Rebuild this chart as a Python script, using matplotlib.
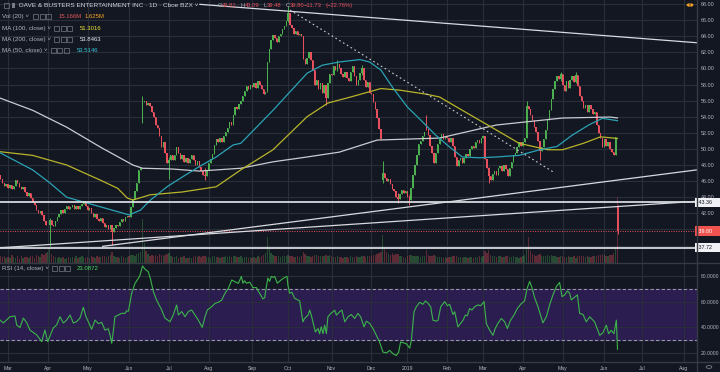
import numpy as np
import pandas as pd
import matplotlib
matplotlib.use("Agg")
import matplotlib.pyplot as plt
from matplotlib.patches import Rectangle, Circle

plt.rcParams['font.family'] = ['Liberation Sans', 'DejaVu Sans']

# daily closes, PLAY, 2018-02-23 .. 2019-06-12
closes = [
    46.3, 45.8, 45.4, 45.7, 45.2, 45.5, 45.0, 45.4, 46.2, 45.8,
    45.3, 45.0, 45.3, 44.6, 44.2, 44.5, 43.9, 43.4, 43.0, 42.4,
    42.0, 42.3, 41.8, 41.0, 40.5, 40.6, 41.2, 40.6, 40.4, 41.0,
    41.5, 41.9, 42.4, 42.1, 42.6, 42.9, 42.5, 42.8, 43.0, 42.6,
    42.9, 42.5, 42.9, 43.2, 43.5, 42.9, 42.4, 42.7, 42.0, 41.6,
    41.9, 41.3, 41.0, 41.4, 40.8, 40.3, 40.6, 40.1, 40.5, 39.7,
    40.2, 40.6, 40.4, 40.9, 41.3, 41.0, 41.5, 41.7, 41.5, 42.8,
    43.8, 44.8, 45.8, 47.4, 47.8, 55.8, 56.0, 55.5, 55.7, 55.3,
    54.6, 54.0, 53.0, 52.6, 51.6, 50.2, 50.8, 49.5, 48.3, 48.6,
    49.2, 48.6, 49.3, 50.3, 49.5, 48.8, 49.3, 48.4, 48.9, 48.2,
    48.8, 49.2, 48.6, 48.0, 48.5, 47.8, 47.3, 46.8, 46.6, 47.4,
    48.2, 48.8, 49.4, 50.5, 51.2, 50.9, 51.3, 50.9, 51.6, 52.1,
    52.6, 53.3, 53.0, 54.2, 55.2, 55.0, 55.6, 56.0, 56.6, 57.2,
    57.8, 57.4, 58.0, 57.7, 58.2, 57.6, 58.4, 58.0, 57.4, 56.8,
    57.1, 60.8, 62.4, 63.5, 64.2, 63.8, 63.3, 64.0, 64.3, 64.9,
    65.3, 65.9, 66.9, 65.4, 65.0, 64.3, 64.6, 64.1, 64.3, 64.0,
    61.2, 60.6, 61.3, 62.0, 61.0, 59.8, 58.0, 58.6, 57.4, 58.2,
    57.0, 57.9, 56.3, 58.2, 59.3, 59.2, 60.3, 59.8, 60.6, 60.0,
    59.3, 58.9, 59.6, 58.8, 58.4, 59.5, 60.3, 59.1, 58.0, 58.6,
    59.4, 60.0, 58.6, 57.7, 58.3, 57.0, 56.8, 55.8, 55.0, 53.8,
    52.5, 51.2, 47.0, 46.4, 46.0, 46.3, 45.7, 45.0, 44.8, 44.0,
    43.8, 44.4, 44.9, 44.5, 44.8, 44.0, 43.6, 45.2, 46.7, 48.0,
    49.2, 50.6, 51.0, 51.6, 52.1, 52.5, 51.7, 50.4, 49.5, 48.3,
    49.5, 50.6, 51.4, 51.9, 51.2, 51.6, 51.3, 50.8, 51.4, 50.4,
    49.0, 47.9, 48.6, 48.9, 48.3, 48.9, 49.4, 49.1, 50.0, 50.4,
    50.1, 50.8, 51.1, 50.7, 51.4, 51.6, 48.8, 47.6, 46.6, 46.2,
    46.9, 47.3, 46.8, 47.6, 47.9, 47.2, 48.0, 47.5, 46.6, 47.6,
    48.4, 49.2, 49.5, 50.3, 50.9, 50.4, 50.8, 51.3, 55.3, 55.0,
    54.2, 53.6, 52.7, 52.1, 51.0, 49.8, 50.3, 51.2, 52.4, 53.6,
    54.8, 56.2, 57.4, 58.5, 59.0, 58.7, 59.3, 58.0, 57.2, 58.4,
    57.6, 58.6, 59.0, 58.3, 59.2, 57.8, 56.6, 56.0, 55.1, 55.4,
    54.6, 55.5, 55.0, 54.3, 54.6, 53.0, 52.0, 51.3, 50.2, 51.2,
    50.4, 50.9, 50.0, 49.6, 49.3, 51.53, 39.80,
]

# volume in millions, same bars
volumes = [
    1.6, 1.3, 1.5, 1.2, 1.4, 1.1, 1.8, 1.3, 1.2, 1.5,
    1.0, 1.6, 1.2, 1.4, 1.3, 1.1, 1.7, 1.5, 1.2, 1.9,
    1.6, 1.4, 2.1, 1.8, 2.2, 2.4, 3.4, 2.0, 1.5, 1.3,
    1.2, 1.4, 1.1, 1.3, 1.0, 1.2, 1.4, 1.1, 1.3, 1.2,
    1.5, 1.1, 1.3, 1.6, 1.4, 1.2, 1.3, 1.1, 1.5, 1.4,
    1.2, 1.6, 1.3, 1.4, 1.5, 1.7, 1.4, 1.6, 1.8, 2.5,
    1.7, 1.4, 1.3, 1.2, 1.5, 1.3, 1.2, 1.4, 1.6, 1.8,
    1.9, 1.7, 2.0, 2.3, 2.6, 10.0, 4.5, 2.8, 2.0, 1.7,
    1.8, 1.5, 1.9, 1.6, 2.1, 1.9, 1.5, 1.8, 2.0, 2.2,
    1.6, 1.4, 1.3, 1.5, 1.2, 1.4, 1.3, 1.5, 1.2, 1.1,
    1.3, 1.2, 1.4, 1.5, 1.3, 1.6, 1.4, 1.7, 1.5, 1.3,
    1.4, 1.2, 1.5, 1.6, 1.4, 1.3, 1.2, 1.4, 1.3, 1.5,
    1.4, 1.6, 1.3, 1.7, 1.5, 1.4, 1.3, 1.5, 1.2, 1.4,
    1.3, 1.2, 1.4, 1.1, 1.3, 1.2, 1.5, 1.4, 1.6, 1.8,
    2.2, 6.0, 3.1, 2.2, 1.9, 1.6, 1.5, 1.7, 1.4, 1.6,
    1.5, 1.7, 1.9, 1.6, 1.5, 1.4, 1.3, 1.5, 1.4, 1.7,
    2.4, 2.0, 1.6, 1.5, 1.4, 1.6, 1.8, 1.9, 1.7, 1.6,
    1.5, 1.7, 1.9, 1.6, 1.8, 1.5, 1.4, 1.3, 1.5, 1.4,
    1.3, 1.2, 1.4, 1.3, 1.2, 1.5, 1.4, 1.3, 1.5, 1.4,
    1.3, 1.5, 1.6, 1.4, 1.5, 1.7, 1.6, 1.8, 1.9, 2.1,
    2.3, 2.6, 6.3, 3.2, 2.4, 2.0, 1.9, 2.2, 1.8, 2.0,
    2.1, 1.7, 1.5, 1.4, 1.2, 1.6, 1.9, 1.8, 1.7, 1.6,
    1.5, 1.7, 1.4, 1.5, 1.6, 2.9, 1.9, 1.7, 1.6, 1.8,
    1.5, 1.4, 1.3, 1.4, 1.2, 1.3, 1.2, 1.4, 1.3, 1.5,
    1.7, 1.6, 1.4, 1.3, 1.2, 1.4, 1.3, 1.2, 1.4, 1.3,
    1.2, 1.4, 1.3, 1.5, 1.4, 1.6, 2.8, 2.2, 3.0, 1.9,
    1.7, 1.5, 1.4, 1.6, 1.5, 1.3, 1.4, 1.5, 1.6, 1.4,
    1.3, 1.5, 1.4, 1.3, 1.2, 1.4, 1.5, 1.8, 3.2, 6.0,
    2.8, 2.1, 1.8, 1.6, 1.9, 2.1, 1.7, 1.5, 1.6, 1.8,
    1.7, 1.9, 1.6, 1.5, 1.4, 1.3, 1.5, 1.6, 1.4, 1.3,
    1.5, 1.4, 1.3, 1.5, 1.2, 1.6, 1.7, 1.5, 1.6, 1.4,
    1.5, 1.3, 1.4, 1.6, 1.5, 1.7, 1.8, 1.9, 2.0, 1.8,
    1.7, 1.6, 1.8, 1.9, 2.2, 3.5, 15.166,
]

# bars that did not open at the prior close
open_gaps = {-4: 46.8, 71: 53.5, 198: 46.2, 221: 53.3, 322: 42.81}
# notable wicks: bar -> (high, low)
wicks = {22: (41.4, 38.0), 55: (40.6, 38.1), 71: (56.6, 53.2), 85: (49.0, 46.3),
         104: (47.6, 46.1), 148: (67.7, 65.8), 168: (56.9, 55.5), 174: (61.0, 59.7),
         187: (60.4, 59.2), 198: (48.5, 45.8), 206: (44.5, 43.3), 212: (44.3, 43.0),
         221: (54.2, 52.3), 254: (47.7, 45.8), 274: (55.9, 51.3), 281: (51.0, 48.6),
         292: (59.6, 58.5), 300: (59.5, 58.2), 322: (43.09, 39.48)}

# moving averages: (bar, value)
ma50_pts = [(-4, 49.5), (13, 47.4), (22, 45.8), (31, 44.0), (40, 43.4), (49, 42.8), (58, 42.2),
            (64, 41.8), (70, 42.4), (75, 43.6), (84, 45.3), (92, 46.5), (101, 47.8), (110, 49.0),
            (119, 50.5), (123, 50.7), (140, 54.8), (158, 59.4), (166, 60.4), (175, 60.8),
            (186, 61.1), (191, 60.8), (197, 59.8), (203, 57.7), (211, 55.2), (218, 53.6),
            (226, 51.7), (233, 50.3), (240, 49.0), (249, 48.9), (258, 49.0), (270, 49.2),
            (281, 49.9), (290, 50.3), (298, 51.7), (307, 53.0), (314, 53.8), (322, 53.51)]
ma100_pts = [(-4, 49.65), (13, 49.2), (31, 48.0), (49, 46.1), (58, 45.1), (63, 43.9), (66, 43.65),
             (75, 44.3), (92, 44.65), (110, 45.3), (123, 47.4), (140, 49.9), (158, 54.0),
             (169, 55.7), (181, 56.45), (197, 57.5), (207, 57.3), (221, 56.8), (228, 56.45),
             (240, 54.8), (258, 52.35), (270, 50.7), (285, 49.9), (293, 49.9), (304, 50.7),
             (313, 51.5), (322, 51.30)]
ma200_pts = [(-4, 56.3), (13, 54.8), (31, 52.7), (49, 50.2), (66, 48.0), (71, 47.6), (87, 47.5),
             (101, 47.25), (123, 47.6), (140, 48.4), (158, 49.0), (175, 49.6), (195, 51.1),
             (228, 51.35), (258, 52.97), (293, 53.84), (318, 53.96), (322, 53.85)]

# RSI(14): (bar, value)
rsi_pts = [
    (-4.2, 45.8), (-2.5, 43.5), (1.1, 48.4), (3.7, 48.9), (4.6, 41.9), (6.3, 40.0), (8.1, 47.3),
    (9.9, 43.7), (11.6, 38.0), (15.2, 34.2), (17.8, 29.0), (19.5, 38.0), (21.0, 29.0),
    (22.2, 33.5), (23.9, 39.6), (25.7, 42.0), (27.5, 48.4), (29.2, 43.5), (31.0, 45.8),
    (32.8, 49.7), (34.5, 43.5), (36.3, 44.6), (38.0, 47.3), (39.8, 55.7), (41.2, 48.4),
    (42.4, 44.6), (44.2, 38.6), (46.0, 45.8), (47.7, 43.0), (49.5, 44.0), (51.2, 38.0),
    (53.0, 39.0), (53.9, 34.2), (54.8, 27.7), (55.6, 36.6), (56.5, 48.4), (58.3, 49.7),
    (60.0, 51.0), (61.8, 51.0), (62.7, 53.0), (63.6, 52.7), (64.4, 58.8), (65.3, 66.5),
    (67.1, 74.3), (68.8, 78.0), (69.7, 80.5), (71.1, 87.8), (72.4, 85.2), (74.1, 83.4),
    (75.4, 77.0), (76.8, 67.8), (78.5, 61.3), (81.2, 53.6), (82.9, 47.3), (85.6, 44.5),
    (87.3, 49.7), (89.1, 57.5), (90.0, 49.7), (91.8, 52.4), (93.5, 48.4), (95.3, 52.4),
    (97.0, 53.6), (98.8, 49.7), (100.5, 45.8), (102.6, 40.1), (104.1, 48.4), (105.3, 53.6),
    (107.6, 56.2), (109.4, 58.8), (111.1, 59.6), (112.9, 61.3), (114.6, 66.5), (116.4, 70.4),
    (118.2, 76.9), (119.9, 75.5), (121.7, 74.3), (123.3, 79.7), (124.1, 74.4), (125.0, 76.3),
    (125.9, 74.4), (127.7, 75.2), (129.4, 71.0), (131.2, 71.0), (132.9, 66.6), (134.7, 62.2),
    (135.6, 63.2), (136.5, 71.8), (137.3, 78.4), (138.2, 75.8), (139.1, 79.7), (140.0, 78.9),
    (140.9, 79.7), (142.3, 74.4), (144.4, 77.1), (146.2, 78.9), (147.4, 79.7), (147.9, 72.6),
    (148.8, 66.6), (150.0, 67.4), (151.4, 62.7), (153.2, 61.4), (154.1, 60.6), (155.8, 44.4),
    (156.7, 47.0), (158.5, 49.6), (159.4, 53.5), (160.2, 49.6), (161.1, 44.4), (162.4, 36.5),
    (163.8, 39.2), (164.6, 35.2), (165.5, 40.5), (166.4, 35.2), (167.3, 41.8), (168.2, 35.2),
    (169.0, 48.3), (170.5, 50.9), (171.7, 52.2), (172.6, 53.5), (173.5, 49.6), (175.2, 52.2),
    (176.4, 53.5), (177.9, 44.4), (179.6, 48.3), (181.4, 50.1), (183.1, 47.0), (184.9, 50.9),
    (186.3, 48.3), (188.1, 40.5), (189.3, 44.9), (191.1, 43.1), (192.8, 39.2), (194.6, 33.9),
    (196.3, 28.7), (198.1, 20.9), (199.9, 20.3), (201.6, 22.2), (203.4, 19.6), (205.1, 18.2),
    (206.4, 20.9), (207.4, 28.7), (208.7, 28.2), (210.4, 27.4), (212.2, 24.0), (213.1, 30.0),
    (214.5, 52.2), (215.7, 56.1), (217.5, 59.5), (219.2, 58.0), (220.5, 60.6), (221.9, 58.8),
    (223.3, 56.1), (224.5, 45.7), (226.3, 44.9), (227.2, 45.7), (228.6, 56.1), (230.7, 60.1),
    (232.1, 56.9), (233.3, 58.0), (235.1, 50.1), (236.0, 52.2), (237.7, 40.5), (239.1, 43.1),
    (240.4, 45.7), (241.6, 49.6), (242.6, 49.1), (243.9, 54.8), (245.1, 53.5), (246.5, 56.1),
    (248.3, 57.5), (249.7, 56.9), (251.5, 60.1), (252.7, 43.1), (254.5, 37.8), (256.2, 33.9),
    (257.4, 39.2), (258.8, 43.1), (260.6, 47.0), (262.4, 44.4), (263.8, 39.2), (265.5, 45.7),
    (267.3, 49.6), (269.1, 54.8), (270.8, 58.0), (272.9, 60.6), (274.3, 70.5), (275.6, 75.8),
    (276.8, 71.0), (278.2, 63.2), (280.0, 56.1), (282.6, 43.6), (284.4, 48.3), (286.1, 57.5),
    (287.9, 65.3), (289.7, 71.8), (291.4, 75.0), (292.7, 64.0), (294.1, 65.3), (295.5, 68.4),
    (296.7, 66.6), (297.6, 61.4), (299.0, 63.2), (300.8, 65.3), (302.0, 50.9), (303.8, 50.1),
    (305.5, 44.4), (307.3, 48.3), (309.9, 44.4), (312.6, 33.9), (314.3, 36.0), (316.1, 41.8),
    (317.3, 35.2), (318.7, 37.8), (320.1, 35.2), (321.4, 45.7), (322.0, 23.09),
]

# drawn levels and trend lines: (bar, price)
levels = [43.36, 37.72]
last_close = 39.80
line_a = [(50, 37.9), (364, 47.4)]
line_b = [(-4.2, 37.72), (364, 43.5)]
line_top = [(101.4, 67.96), (364, 63.19)]
line_dotted = [(149, 67.25), (289, 47.0)]

holidays = ['2018-03-30', '2018-05-28', '2018-07-04', '2018-09-03', '2018-11-22',
            '2018-12-05', '2018-12-25', '2019-01-01', '2019-01-21', '2019-02-18',
            '2019-04-19', '2019-05-27', '2019-07-04']

bg = '#131722'
grid_c = '#2a2e39'
txt_c = '#b2b5be'
up_c = '#4caf50'
dn_c = '#e8505e'

idx = np.arange(-4, -4 + len(closes))
c = np.array(closes)
o = np.r_[c[0], c[:-1]]
for k, v in open_gaps.items():
    o[k + 4] = v
hi = np.maximum(o, c)
lo = np.minimum(o, c)
for k, (h, l) in wicks.items():
    hi[k + 4] = h
    lo[k + 4] = l
is_up = c >= o
cols = np.where(is_up, up_c, dn_c)

cal = pd.bdate_range('2018-02-23', '2019-08-31', freq='C', holidays=holidays)
pos = np.arange(len(cal)) - 4
mstart = [i for i in range(1, len(cal)) if cal[i].month != cal[i - 1].month]
mticks = [pos[i] for i in mstart]
mlabels = [('2019' if cal[i].month == 1 else cal[i].strftime('%b')) for i in mstart]

W, H = 720, 372
fig = plt.figure(figsize=(7.2, 3.72), dpi=100, facecolor=bg)
ax = fig.add_axes([0, 109 / H, 697 / W, 263 / H])
axr = fig.add_axes([0, 10 / H, 697 / W, 99 / H], sharex=ax)
for a in (ax, axr):
    a.set_facecolor(bg)
    for s in a.spines.values():
        s.set_visible(False)
    a.grid(True, color=grid_c, lw=0.8)
    a.set_axisbelow(True)
    a.yaxis.tick_right()
    a.tick_params(length=0, labelsize=3.9, labelcolor=txt_c, pad=3)

ax.set_xlim(-4.23, 364.0)
pticks = np.arange(38, 69, 2)
ax.set_yticks(pticks)
# 38 and 40 sit under the price boxes
ax.set_yticklabels(['' if v in (38, 40) else '%.2f' % v for v in pticks])
ax.set_xticks(mticks)
ax.tick_params(axis='x', labelbottom=False)

# volume, scaled into the bottom of the price pane
ax.bar(idx, np.array(volumes) / 60.0, width=0.75, bottom=0, color=cols, alpha=0.35,
       transform=ax.get_xaxis_transform(), zorder=1)

# candles
ax.vlines(idx, lo, hi, colors=cols, lw=0.7, zorder=3)
body = np.maximum(np.abs(c - o), 0.06)
ax.bar(idx, body, bottom=np.minimum(o, c), width=0.72, color=cols, zorder=3)
ax.set_ylim(35.83, 68.5)

# moving averages
for pts, col in ((ma200_pts, '#c9cbd1'), (ma100_pts, '#b8b42a'), (ma50_pts, '#2aa3b5')):
    ax.plot([p[0] for p in pts], [p[1] for p in pts], color=col, lw=0.9, zorder=4)

# levels and trend lines
for lv in levels:
    ax.axhline(lv, color='#e6e8ee', lw=1.2, zorder=5)
ax.axhline(last_close, color=dn_c, lw=0.7, ls=(0, (1, 1.5)), zorder=5)
for ln in (line_a, line_b, line_top):
    ax.plot([ln[0][0], ln[1][0]], [ln[0][1], ln[1][1]], color='#d8dae0', lw=0.9, zorder=5)
ax.plot([line_dotted[0][0], line_dotted[1][0]], [line_dotted[0][1], line_dotted[1][1]],
        color='#c9cbd1', lw=0.8, ls=(0, (1.5, 2.5)), zorder=5)


def tag(a, y, s, fc, tc):
    a.text(1.0, y, s, transform=a.get_yaxis_transform(), fontsize=3.9, color=tc,
           va='center', ha='left', clip_on=False, zorder=10,
           bbox=dict(boxstyle='square,pad=0.4', fc=fc, ec=fc, lw=0))


tag(ax, 43.36, ' 43.36    ', '#f0f1f4', '#131722')
tag(ax, 39.80, ' 39.80    ', '#ef5350', '#ffffff')
tag(ax, 37.72, ' 37.72    ', '#f0f1f4', '#131722')

# RSI pane
axr.set_ylim(13.2, 90.1)
axr.set_yticks([20, 40, 60, 80])
axr.set_yticklabels(['20.0000', '40.0000', '60.0000', '80.0000'])
axr.tick_params(axis='y', labelsize=3.6, pad=2.5)
axr.axhspan(30, 70, color='#2b1d50', zorder=0.5)
axr.axhline(70, color='#9598a1', lw=0.8, ls=(0, (3, 2)), zorder=2)
axr.axhline(30, color='#9598a1', lw=0.8, ls=(0, (3, 2)), zorder=2)
axr.plot([p[0] for p in rsi_pts], [p[1] for p in rsi_pts], color='#3cb44b', lw=0.8, zorder=3)
axr.set_xticks(mticks)
axr.set_xticklabels(mlabels)
axr.tick_params(axis='x', labelsize=3.7, pad=3)

# pane separators
fig.add_artist(plt.Line2D([0, 1], [109 / H, 109 / H], color='#363a45', lw=1.0))
fig.add_artist(plt.Line2D([0, 1], [10 / H, 10 / H], color='#363a45', lw=1.0))
fig.add_artist(plt.Line2D([697 / W, 697 / W], [0, 1], color='#363a45', lw=1.0))


def ftxt(x, y, s, col=txt_c, size=4.5, **kw):
    fig.text(x / W, 1 - y / H, s, color=col, fontsize=size, va='center', ha='left', **kw)


def icons(x0, y):
    for k in range(3):
        fig.add_artist(Rectangle(((x0 + k * 6.5) / W, 1 - (y + 2.5) / H), 5 / W, 5 / H,
                                 fill=False, ec='#787b86', lw=0.5))


# header legend
fig.add_artist(Rectangle((4 / W, 1 - 8 / H), 5 / W, 5 / H, fill=False, ec='#787b86', lw=0.5))
fig.add_artist(Rectangle((12 / W, 1 - 8 / H), 3 / W, 5 / H, fc='#787b86', lw=0))
ftxt(19, 5.7, 'DAVE & BUSTERS ENTERTAINMENT INC \u00b7 1D \u00b7 Cboe BZX \u02c5', '#d1d4dc', 4.65)
for x, s, col in [(218, 'O', txt_c), (222, '42.81', dn_c), (241, 'H', txt_c),
                  (245, '43.09', dn_c), (263, 'L', txt_c), (266.5, '39.48', dn_c),
                  (286, 'C', txt_c), (290, '39.80', dn_c), (304, '\u221211.73', dn_c),
                  (326, '(\u221222.76%)', dn_c)]:
    ftxt(x, 5.7, s, col, 4.2)

ftxt(2, 16.7, 'Vol (20) \u02c5', txt_c)
icons(33, 16.7)
ftxt(59, 16.7, '15.166M', '#e05a5a', 4.3)
ftxt(85, 16.7, '1.625M', '#f7a325', 4.3)
ftxt(2, 28.3, 'MA (100, close) \u02c5', txt_c)
icons(54, 28.3)
ftxt(80, 28.3, '51.3016', '#e5e33a', 4.3)
ftxt(2, 39.3, 'MA (200, close) \u02c5', txt_c)
icons(54, 39.3)
ftxt(80, 39.3, '53.8463', '#e6e8ee', 4.3)
ftxt(2, 50.7, 'MA (50, close) \u02c5', txt_c)
icons(51, 50.7)
ftxt(77, 50.7, '53.5146', '#36c6d8', 4.3)
ftxt(2, 268.5, 'RSI (14, close) \u02c5', txt_c)
icons(52, 268.5)
ftxt(77, 268.5, '23.0872', '#4cd964', 4.3)

# small status marks
fig.add_artist(Circle((690 / W, 1 - 5 / H), 3.4 / W, fc='#f7a325', ec='none',
                      transform=fig.transFigure))
ftxt(688.9, 5.2, '!', '#131722', 4.3, fontweight='bold')
fig.add_artist(Circle((709 / W, 1 - 367 / H), 2.8 / W, fill=False, ec='#787b86', lw=0.6,
                      transform=fig.transFigure))

fig.savefig('out.png', dpi=100, facecolor=bg)
